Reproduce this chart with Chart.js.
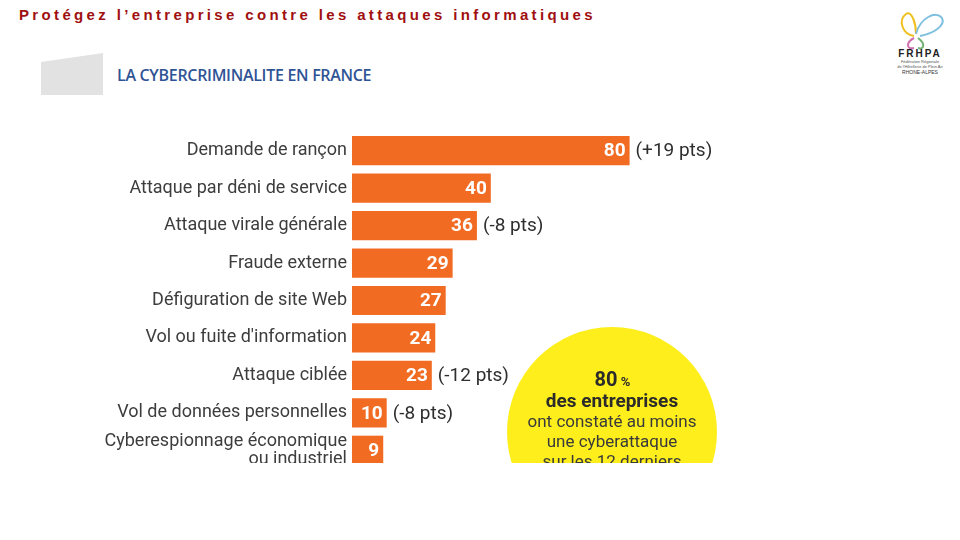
<!DOCTYPE html>
<html>
<head>
<meta charset="utf-8">
<script src="https://cdn.jsdelivr.net/npm/chart.js@4"></script>
<style>
    body { margin: 0; width: 960px; height: 540px; background: #fff; position: relative; overflow: hidden; font-family: "Open Sans", "Liberation Sans", sans-serif; }
    #titre { position: absolute; left: 19px; top: 6px; color: #a01010; font-family: "Liberation Sans", sans-serif; font-weight: bold; font-size: 15px; letter-spacing: 3.35px; white-space: nowrap; }
    #sousTitre { position: absolute; left: 117px; top: 64px; color: #2f5496; font-family: "Open Sans", sans-serif; font-weight: 600; font-size: 16px; white-space: nowrap; letter-spacing: -0.3px; }
    #forme { position: absolute; left: 41px; top: 52px; }
    #logo { position: absolute; left: 892px; top: 6px; }
    #zoneGraph { position: absolute; left: 100px; top: 125px; width: 620px; height: 338px; overflow: hidden; }
    #graphWrap { position: absolute; left: 0; top: 0; width: 620px; height: 345px; }
</style>
</head>
<body>
<div id="titre">Protégez l’entreprise contre les attaques informatiques</div>
<svg id="forme" width="64" height="44"><polygon points="0,10 62,1 62,43 0,43" fill="#e2e2e2"/></svg>
<div id="sousTitre">LA CYBERCRIMINALITE EN FRANCE</div>
<svg id="logo" width="60" height="70">
    <path d="M22 30 C10 28 6 14 14 8 C20 4 24 18 24 28" fill="none" stroke="#f0c020" stroke-width="2"/>
    <path d="M24 28 C28 12 44 4 50 12 C54 20 40 28 28 30" fill="none" stroke="#7fc0e0" stroke-width="2"/>
    <path d="M22 32 C14 36 14 44 22 42" fill="none" stroke="#d070b0" stroke-width="2"/>
    <path d="M26 32 C34 38 32 44 26 42" fill="none" stroke="#70b070" stroke-width="2"/>
    <text x="28" y="51" text-anchor="middle" font-family="Liberation Sans" font-size="10" font-weight="bold" fill="#222" letter-spacing="2">FRHPA</text>
    <text x="28" y="57" text-anchor="middle" font-family="Liberation Sans" font-size="4" fill="#555">Fédération Régionale</text>
    <text x="28" y="62" text-anchor="middle" font-family="Liberation Sans" font-size="4" fill="#555">de l'Hôtellerie de Plein Air</text>
    <text x="28" y="68" text-anchor="middle" font-family="Liberation Sans" font-size="5" fill="#333">RHONE-ALPES</text>
</svg>
<div id="zoneGraph"><div id="graphWrap"><canvas id="graph"></canvas></div></div>
<script>
const categories = [
    'Demande de rançon',
    'Attaque par déni de service',
    'Attaque virale générale',
    'Fraude externe',
    'Défiguration de site Web',
    "Vol ou fuite d'information",
    'Attaque ciblée',
    'Vol de données personnelles',
    ['Cyberespionnage économique', 'ou industriel']
];
const valeurs = [80, 40, 36, 29, 27, 24, 23, 10, 9];
const evolutions = ['(+19 pts)', '', '(-8 pts)', '', '', '', '(-12 pts)', '(-8 pts)', ''];
const bulleLignes = ['80', 'des entreprises', 'ont constaté au moins', 'une cyberattaque', 'sur les 12 derniers'];

// draws the values inside the bars, the changes and the yellow bubble
const etiquettes = {
    id: 'etiquettes',
    beforeDatasetsDraw(chart) {
        const ctx = chart.ctx;
        // yellow bubble sits behind, in the lower right
        const cx = 512, cy = 307, r = 105;
        ctx.save();
        ctx.fillStyle = '#fdee1c';
        ctx.beginPath();
        ctx.arc(cx, cy, r, 0, Math.PI * 2);
        ctx.fill();
        ctx.fillStyle = '#2b2b2b';
        ctx.textAlign = 'center';
        ctx.textBaseline = 'middle';
        ctx.font = 'bold 20px Roboto';
        const w80 = ctx.measureText(bulleLignes[0]).width;
        ctx.fillText(bulleLignes[0], cx - 6, 256);
        ctx.font = 'bold 13px Roboto';
        ctx.fillText('%', cx - 6 + w80 / 2 + 8, 258);
        ctx.font = 'bold 19px Roboto';
        ctx.fillText(bulleLignes[1], cx, 277);
        ctx.font = '17px Roboto';
        ctx.fillStyle = '#3a3a3a';
        ctx.fillText(bulleLignes[2], cx, 298);
        ctx.fillText(bulleLignes[3], cx, 318);
        ctx.fillText(bulleLignes[4], cx, 338);
        ctx.restore();
    },
    afterDatasetsDraw(chart) {
        const ctx = chart.ctx;
        const meta = chart.getDatasetMeta(0);
        ctx.save();
        ctx.textBaseline = 'middle';
        meta.data.forEach((bar, i) => {
            ctx.font = 'bold 19px Roboto';
            ctx.fillStyle = '#ffffff';
            ctx.textAlign = 'right';
            ctx.fillText(String(valeurs[i]), bar.x - 4, bar.y + 1);
            if (evolutions[i]) {
                ctx.font = '19px Roboto';
                ctx.fillStyle = '#2e2e2e';
                ctx.textAlign = 'left';
                ctx.fillText(evolutions[i], bar.x + 6, bar.y + 1);
            }
        });
        ctx.restore();
    }
};

new Chart(document.getElementById('graph'), {
    type: 'bar',
    data: {
        labels: categories,
        datasets: [{
            data: valeurs,
            backgroundColor: '#f26b22',
            borderWidth: 0,
            barPercentage: 0.78,
            categoryPercentage: 1
        }]
    },
    options: {
        indexAxis: 'y',
        responsive: true,
        maintainAspectRatio: false,
        animation: false,
        layout: { padding: { top: 7, bottom: 1, right: 21, left: 0 } },
        plugins: { legend: { display: false }, tooltip: { enabled: false } },
        scales: {
            x: { display: false, min: 0, max: 100 },
            y: {
                grid: { display: false, drawTicks: false, tickLength: 0 },
                border: { display: false },
                afterFit(scale) {
                    scale.width = 252;
                    scale.paddingTop = 0;
                    scale.paddingBottom = 0;
                },
                ticks: {
                    autoSkip: false,
                    padding: 5,
                    color: '#3d3d3d',
                    font: { family: 'Roboto', size: 18, lineHeight: 1.0 }
                }
            }
        }
    },
    plugins: [etiquettes]
});
</script>
</body>
</html>
